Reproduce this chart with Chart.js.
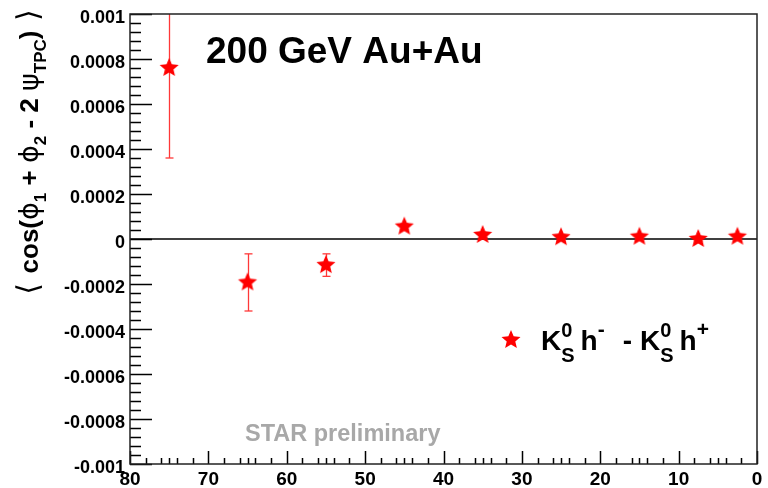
<!DOCTYPE html>
<html>
<head>
<meta charset="utf-8">
<script src="https://cdn.jsdelivr.net/npm/chart.js@4"></script>
<style>
  html, body { margin: 0; padding: 0; background: #fff; }
  #wrap { width: 768px; height: 488px; }
</style>
</head>
<body>
<div id="wrap"><canvas id="chart" width="768" height="488"></canvas></div>
<script>
// centrality bins (%), correlator values and their errors
const xValues = [75, 65, 55, 45, 35, 25, 15, 7.5, 2.5];
const yValues = [0.00076, -0.000193, -0.000116, 0.000055, 0.000018, 0.000008, 0.00001, 0.0, 0.00001];
const yErrors = [0.0004, 0.000127, 0.00005, 0.000012, 0.00001, 0.00001, 0.00001, 0.00001, 0.00001];

const xTickLabels = ['80', '70', '60', '50', '40', '30', '20', '10', '0'];
const yTickLabels = ['0.001', '0.0008', '0.0006', '0.0004', '0.0002', '0',
  '-0.0002', '-0.0004', '-0.0006', '-0.0008', '-0.001'];

// tick marks: [value, length in px]
const xTickMarks = [];
for (let v = 0; v <= 80; v++) {
  if (v % 10 === 0) xTickMarks.push([v, 13]);
  else if (v % 2 === 0 || v % 5 === 0) xTickMarks.push([v, 6]);
}
const yTickMarks = [];
for (let k = -25; k <= 25; k++) {
  yTickMarks.push([k * 0.00004, k % 5 === 0 ? 22 : 11]);
}

const FONT = '"Liberation Sans", Arial, sans-serif';
const RED = '#ff0000';
const ERR_RED = '#ff3838';
const AXIS = '#222222';

// filled five point star used as marker
function makeStar(R) {
  const c = document.createElement('canvas');
  const s = Math.ceil(R * 2 + 2);
  c.width = s; c.height = s;
  const g = c.getContext('2d');
  const r = R * 0.45;
  g.beginPath();
  for (let i = 0; i < 10; i++) {
    const a = -Math.PI / 2 + i * Math.PI / 5;
    const rr = i % 2 === 0 ? R : r;
    g.lineTo(s / 2 + rr * Math.cos(a), s / 2 + rr * Math.sin(a));
  }
  g.closePath();
  g.fillStyle = RED;
  g.fill();
  return c;
}
const star = makeStar(10);

// draws a run of text pieces (plain, stacked sup/sub, or a fixed gap)
function drawRich(ctx, parts, x, y, align) {
  const widths = parts.map(p => {
    if (p.gap !== undefined) return p.gap;
    ctx.font = p.font;
    if (p.t !== undefined) return ctx.measureText(p.t).width;
    return Math.max(p.sup ? ctx.measureText(p.sup).width : 0, p.sub ? ctx.measureText(p.sub).width : 0);
  });
  const total = widths.reduce((a, b) => a + b, 0);
  let cx = align === 'center' ? x - total / 2 : x;
  ctx.textAlign = 'left';
  ctx.textBaseline = 'alphabetic';
  parts.forEach((p, i) => {
    if (p.gap === undefined) {
      ctx.font = p.font;
      if (p.t !== undefined) {
        ctx.fillText(p.t, cx, y + (p.dy || 0));
      } else {
        if (p.sup) ctx.fillText(p.sup, cx, y + p.supDy);
        if (p.sub) ctx.fillText(p.sub, cx, y + p.subDy);
      }
    }
    cx += widths[i];
  });
  return total;
}

function segment(ctx, x1, y1, x2, y2) {
  ctx.beginPath();
  ctx.moveTo(x1, y1);
  ctx.lineTo(x2, y2);
  ctx.stroke();
}

const decorations = {
  id: 'decorations',
  beforeDatasetsDraw(chart) {
    const ctx = chart.ctx;
    const a = chart.chartArea;
    const xs = chart.scales.x;
    const ys = chart.scales.y;
    ctx.save();

    // zero line
    const y0 = ys.getPixelForValue(0);
    ctx.strokeStyle = '#000';
    ctx.lineWidth = 1.5;
    segment(ctx, a.left, y0, a.right, y0);

    // error bars
    ctx.strokeStyle = ERR_RED;
    ctx.lineWidth = 1.3;
    xValues.forEach((xv, i) => {
      const px = Math.round(xs.getPixelForValue(xv)) + 0.5;
      const hi = Math.min(yValues[i] + yErrors[i], ys.max);
      const lo = Math.max(yValues[i] - yErrors[i], ys.min);
      const pHi = ys.getPixelForValue(hi);
      const pLo = ys.getPixelForValue(lo);
      segment(ctx, px, pHi, px, pLo);
      if (yValues[i] + yErrors[i] <= ys.max) segment(ctx, px - 4, pHi, px + 4, pHi);
      if (yValues[i] - yErrors[i] >= ys.min) segment(ctx, px - 4, pLo, px + 4, pLo);
    });
    ctx.restore();
  },
  afterDraw(chart) {
    const ctx = chart.ctx;
    const a = chart.chartArea;
    const xs = chart.scales.x;
    const ys = chart.scales.y;
    ctx.save();

    // tick marks pointing into the plot
    ctx.strokeStyle = '#000000';
    ctx.lineWidth = 1.5;
    ctx.beginPath();
    xTickMarks.forEach(([v, len]) => {
      const px = Math.round(xs.getPixelForValue(v)) + 0.5;
      ctx.moveTo(px, a.bottom);
      ctx.lineTo(px, a.bottom - len);
    });
    yTickMarks.forEach(([v, len]) => {
      const py = Math.round(ys.getPixelForValue(v)) + 0.5;
      ctx.moveTo(a.left, py);
      ctx.lineTo(a.left + len, py);
    });
    ctx.stroke();

    // frame
    ctx.strokeStyle = AXIS;
    ctx.lineWidth = 1.5;
    ctx.strokeRect(a.left, a.top, a.right - a.left, a.bottom - a.top);

    // tick labels
    ctx.fillStyle = '#000';
    ctx.font = 'bold 19px ' + FONT;
    ctx.textAlign = 'center';
    ctx.textBaseline = 'alphabetic';
    xTickLabels.forEach(l => {
      ctx.fillText(l, xs.getPixelForValue(Number(l)), a.bottom + 21);
    });
    ctx.font = 'bold 18px ' + FONT;
    ctx.textAlign = 'right';
    ctx.textBaseline = 'middle';
    yTickLabels.forEach(l => {
      ctx.fillText(l, a.left - 5, ys.getPixelForValue(Number(l)) + 4);
    });

    // y axis title, rotated
    const big = 'bold 26px ' + FONT;
    const greek = '27px "DejaVu Sans", ' + FONT;
    const sub = 'bold 17px ' + FONT;
    const brk = '30px "DejaVu Sans", sans-serif';
    ctx.save();
    ctx.translate(38, 152);
    ctx.rotate(-Math.PI / 2);
    drawRich(ctx, [
      { t: '\u27e8 ', font: brk },
      { t: 'cos(', font: big },
      { t: '\u03d5', font: greek },
      { t: '1', font: sub, dy: 8 },
      { t: ' + ', font: big },
      { t: '\u03d5', font: greek },
      { t: '2', font: sub, dy: 8 },
      { t: ' - 2 ', font: big },
      { t: '\u03c8', font: greek },
      { t: 'TPC', font: sub, dy: 8 },
      { t: ')', font: big },
      { t: ' \u27e9', font: brk }
    ], 0, 0, 'center');
    ctx.restore();

    // headline
    ctx.font = 'bold 37px ' + FONT;
    ctx.textAlign = 'left';
    ctx.textBaseline = 'alphabetic';
    ctx.fillText('200 GeV Au+Au', 206, 63);

    // watermark
    ctx.fillStyle = '#a8a8a8';
    ctx.font = 'bold 23.5px ' + FONT;
    ctx.fillText('STAR preliminary', 245, 441);

    // legend
    ctx.drawImage(star, 511 - star.width / 2, 340 - star.height / 2);
    ctx.fillStyle = '#000';
    const lf = 'bold 28px ' + FONT;
    const sf = 'bold 20px ' + FONT;
    const pf = 'bold 21px ' + FONT;
    drawRich(ctx, [
      { t: 'K', font: lf },
      { sup: '0', sub: 'S', font: sf, supDy: -13, subDy: 12 },
      { gap: 6 },
      { t: 'h', font: lf },
      { sup: '-', font: pf, supDy: -14 },
      { gap: 18 },
      { t: '-', font: lf },
      { gap: 8 },
      { t: 'K', font: lf },
      { sup: '0', sub: 'S', font: sf, supDy: -13, subDy: 12 },
      { gap: 6 },
      { t: 'h', font: lf },
      { sup: '+', font: pf, supDy: -14 }
    ], 541, 350, 'left');
    ctx.restore();
  }
};

new Chart(document.getElementById('chart'), {
  type: 'scatter',
  data: {
    datasets: [{
      label: 'K0S h- - K0S h+',
      data: xValues.map((v, i) => ({ x: v, y: yValues[i] })),
      pointStyle: star,
      backgroundColor: RED,
      borderColor: RED,
      pointRadius: 10,
      pointHoverRadius: 10
    }]
  },
  options: {
    responsive: false,
    animation: false,
    events: [],
    layout: { padding: { left: 130, right: 6, top: 14, bottom: 24 } },
    plugins: { legend: { display: false }, tooltip: { enabled: false } },
    scales: {
      x: { type: 'linear', min: 0, max: 80, reverse: true, display: false },
      y: { type: 'linear', min: -0.001, max: 0.001, display: false }
    }
  },
  plugins: [decorations]
});
</script>
</body>
</html>
